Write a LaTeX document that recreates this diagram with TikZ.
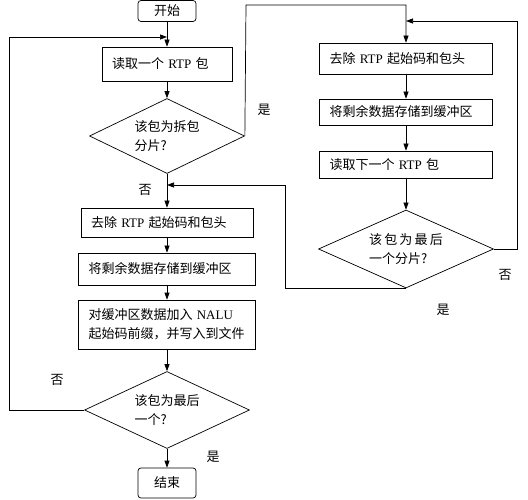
\documentclass[tikz,border=0pt]{standalone}
\usepackage{fontspec}
\setmainfont{Noto Sans CJK SC}
\newfontfamily\lat{Liberation Serif}
\usetikzlibrary{shapes.geometric,arrows.meta}

\begin{document}
\begin{tikzpicture}[x=1pt,y=-1pt,line width=0.7pt,
        >={Triangle[length=7pt,width=5pt]},
        font=\fontsize{13pt}{19pt}\selectfont,
        scatola/.style={draw,inner xsep=10pt,inner ysep=0pt,align=left},
        rombo/.style={draw,diamond,aspect=2,inner sep=0pt,align=left},
        estremo/.style={draw,rounded corners=3pt,minimum width=58pt}]
        \useasboundingbox (0,0) rectangle (528,500);

        % Colonna di sinistra
        \node[estremo,minimum height=21pt] (inizio) at (167,11) {开始};
        \node[scatola,text width=110pt,minimum height=34pt] (leggi) at (167,64) {读取一个 {\lat RTP} 包};
        \node[rombo,minimum width=155pt,minimum height=75pt] (frag) at (167,136) {该包为拆包\\分片?};
        \node[scatola,text width=152pt,minimum height=29pt] (togli) at (167,222.5) {去除 {\lat RTP} 起始码和包头};
        \node[scatola,text width=157pt,minimum height=32pt] (salva) at (167,269) {将剩余数据存储到缓冲区};
        \node[scatola,text width=157pt,minimum height=49pt] (scrivi) at (167,324.5) {对缓冲区数据加入 {\lat NALU}\\起始码前缀，并写入到文件};
        \node[rombo,minimum width=165pt,minimum height=77pt] (ultimo) at (167,410) {该包为最后\\一个?};
        \node[estremo,minimum height=30pt] (fine) at (167,483) {结束};

        % Colonna di destra
        \node[scatola,text width=153pt,minimum height=31pt] (togliB) at (406,58.5) {去除 {\lat RTP} 起始码和包头};
        \node[scatola,text width=153pt,minimum height=26pt] (salvaB) at (406,112) {将剩余数据存储到缓冲区};
        \node[scatola,text width=153pt,minimum height=27pt] (leggiB) at (406,164.5) {读取下一个 {\lat RTP} 包};
        \node[rombo,minimum width=175pt,minimum height=78pt] (ultimoB) at (406,249) {该\,包\,为\,最\,后\\一个分片?};

        % Punti di passaggio
        \coordinate (a1) at (246,5);
        \coordinate (a2) at (517,21);
        \coordinate (b2) at (406,21);
        \coordinate (a3) at (285,185);
        \coordinate (b3) at (167,185);
        \coordinate (a4) at (9,37);
        \coordinate (b4) at (167,37);

        % Etichette
        \node (si1) at (264,110) {是};
        \node (no1) at (145,190) {否};
        \node (no2) at (505,275) {否};
        \node (si2) at (443,310) {是};
        \node (no3) at (57,380) {否};
        \node (si3) at (213,457) {是};

        % Frecce
        \draw[->] (inizio) -- (leggi);
        \draw[->] (leggi) -- (frag);
        \draw[->] (frag) -- (togli);
        \draw[->] (togli) -- (salva);
        \draw[->] (salva) -- (scrivi);
        \draw[->] (scrivi) -- (ultimo);
        \draw[->] (ultimo) -- (fine);
        \draw[->] (frag.east) -- (a1) -| (togliB.north);
        \draw[->] (togliB) -- (salvaB);
        \draw[->] (salvaB) -- (leggiB);
        \draw[->] (leggiB) -- (ultimoB);
        \draw[->] (ultimoB.east) -| (a2) -- (b2);
        \draw[->] (ultimoB.south) -| (a3) -- (b3);
        \draw[->] (ultimo.west) -| (a4) -- (b4);
      \end{tikzpicture}
\end{document}
